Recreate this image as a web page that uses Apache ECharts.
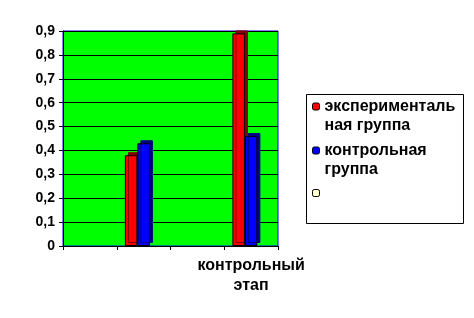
<!DOCTYPE html>
<html><head><meta charset="utf-8">
<script src="https://cdn.jsdelivr.net/npm/echarts@6/dist/echarts.min.js"></script>
<style>html,body{margin:0;padding:0;background:#fff}#c{width:474px;height:318px}</style>
</head><body><div id="c"></div>
<script>
var categories = ['', '', '', 'контрольный\nэтап'];
var seriesNames = ['экспериментальная группа', 'контрольная группа', ' '];
var legendLabels = ['эксперименталь\nная группа', 'контрольная\nгруппа', ' '];
var expGroup = [null, 0.38, null, 0.89];
var ctrlGroup = [null, 0.43, null, 0.46];
var thirdGroup = [null, null, null, null];
var yTicks = [0, 0.1, 0.2, 0.3, 0.4, 0.5, 0.6, 0.7, 0.8, 0.9];

var FONT = '"Liberation Sans", Arial, sans-serif';
var colors = ['#ff0000', '#0000ff', '#ffffcc'];
var sideColors = ['#800000', '#000080', 'transparent'];
var seriesData = [expGroup, ctrlGroup, thirdGroup];

var chart = echarts.init(document.getElementById('c'), null, {renderer: 'canvas'});

var legendTops = [78, 122, 174];
var legends = seriesNames.map(function (n, i) {
  return {
    data: [n],
    orient: 'vertical',
    left: 312,
    top: legendTops[i],
    padding: 0,
    itemWidth: 7,
    itemHeight: 7,
    selectedMode: false,
    formatter: function (name) { return ' \n' + legendLabels[seriesNames.indexOf(name)]; },
    textStyle: {fontFamily: FONT, fontWeight: 'bold', fontSize: 16, color: '#000', lineHeight: 19},
    itemStyle: {borderColor: '#000', borderWidth: 1, shadowColor: 'transparent', shadowOffsetX: 0, shadowOffsetY: 0}
  };
});

chart.setOption({
  animation: false,
  backgroundColor: '#fff',
  graphic: [{
    type: 'rect', z: 1, left: 306, top: 94,
    shape: {width: 157, height: 129},
    style: {fill: '#fff', stroke: '#000', lineWidth: 1}
  }],
  legend: legends,
  grid: {
    left: 63, right: 196, top: 31, bottom: 72,
    show: true, backgroundColor: '#00ff00', borderColor: '#0000ff', borderWidth: 1
  },
  xAxis: {
    type: 'category',
    data: categories,
    axisLine: {lineStyle: {color: '#000', width: 1}},
    axisTick: {show: true, length: 4, lineStyle: {color: '#000'}},
    axisLabel: {interval: 0, fontFamily: FONT, fontWeight: 'bold', fontSize: 16, color: '#000', lineHeight: 20, margin: 10}
  },
  yAxis: {
    type: 'value',
    min: yTicks[0], max: yTicks[yTicks.length - 1], interval: 0.1,
    axisLine: {show: true, lineStyle: {color: '#000', width: 1}},
    axisTick: {show: true, length: 4, lineStyle: {color: '#000'}},
    splitLine: {lineStyle: {color: '#000', width: 1}},
    axisLabel: {
      fontFamily: FONT, fontWeight: 'bold', fontSize: 14, color: '#000', margin: 8,
      formatter: function (v) { return (Math.round(v * 10) / 10).toString().replace('.', ','); }
    }
  },
  series: seriesNames.map(function (n, i) {
    return {
      type: 'bar',
      name: n,
      data: seriesData[i],
      barWidth: 12.5,
      barGap: '0%',
      barCategoryGap: '30%',
      itemStyle: {
        color: colors[i], borderColor: '#000', borderWidth: 1,
        shadowColor: sideColors[i], shadowBlur: 0, shadowOffsetX: 3, shadowOffsetY: -3
      }
    };
  })
});
</script>
</body></html>
